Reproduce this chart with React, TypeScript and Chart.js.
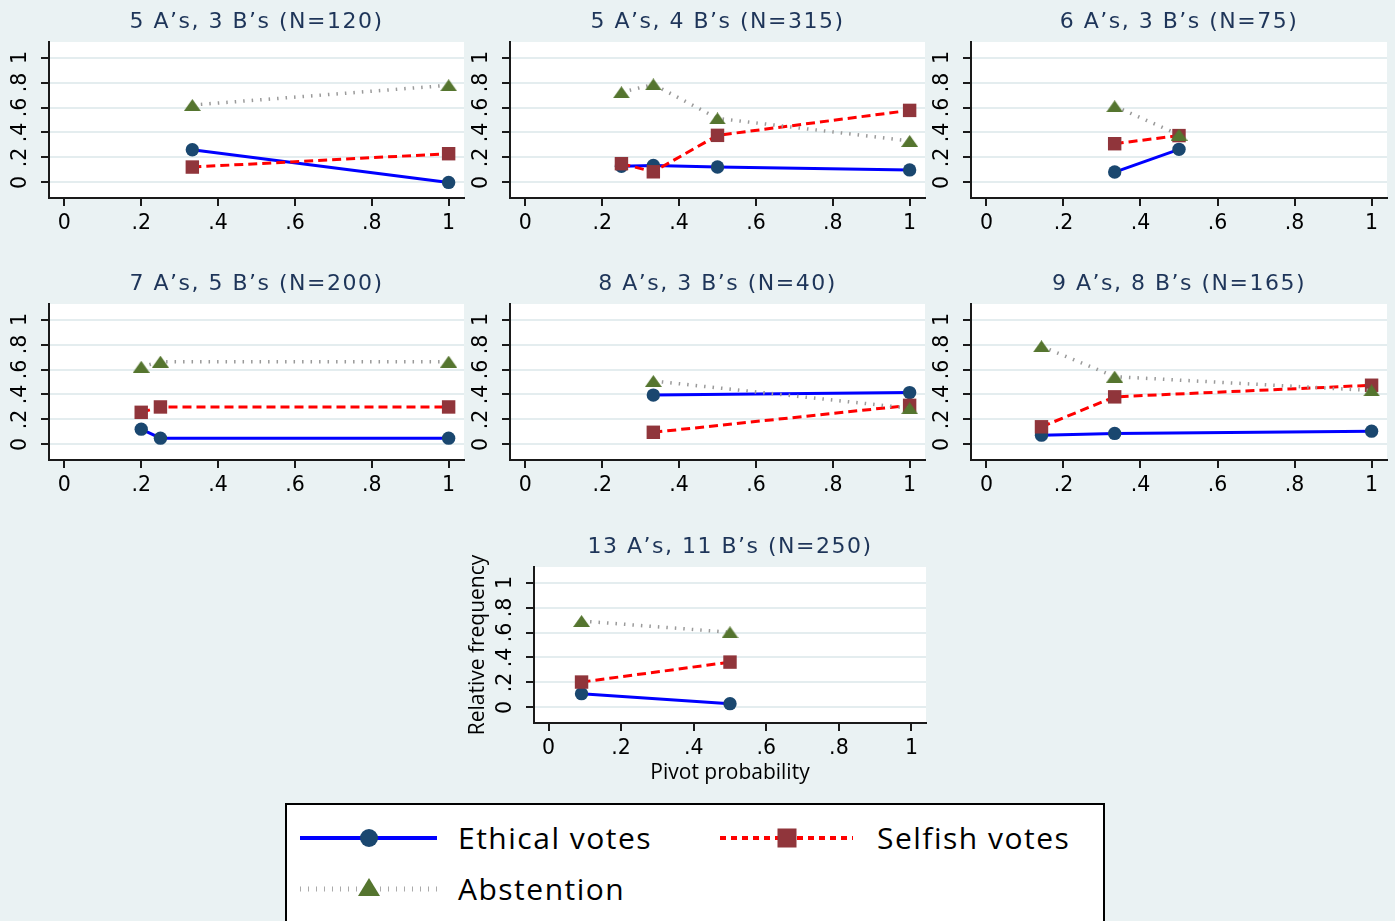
import React, { useEffect, useRef } from "react";
import { Chart, registerables } from "chart.js";

Chart.register(...registerables);

// ---------------- data ----------------
const panelTitles = [
  "5 A’s, 3 B’s (N=120)",
  "5 A’s, 4 B’s (N=315)",
  "6 A’s, 3 B’s (N=75)",
  "7 A’s, 5 B’s (N=200)",
  "8 A’s, 3 B’s (N=40)",
  "9 A’s, 8 B’s (N=165)",
  "13 A’s, 11 B’s (N=250)",
];

const pivotProbability = [
  [0.333, 1],
  [0.25, 0.333, 0.5, 1],
  [0.333, 0.5],
  [0.2, 0.25, 1],
  [0.333, 1],
  [0.143, 0.333, 1],
  [0.091, 0.5],
];

const ethicalVotes = [
  [0.262, 0.0],
  [0.13, 0.136, 0.123, 0.1],
  [0.083, 0.265],
  [0.122, 0.05, 0.05],
  [0.395, 0.415],
  [0.074, 0.088, 0.106],
  [0.11, 0.03],
];

const selfishVotes = [
  [0.123, 0.23],
  [0.15, 0.085, 0.377, 0.577],
  [0.31, 0.375],
  [0.257, 0.3, 0.3],
  [0.097, 0.313],
  [0.141, 0.381, 0.474],
  [0.203, 0.363],
];

const abstention = [
  [0.62, 0.778],
  [0.722, 0.785, 0.513, 0.332],
  [0.61, 0.382],
  [0.622, 0.663, 0.663],
  [0.508, 0.29],
  [0.786, 0.543, 0.432],
  [0.692, 0.602],
];

const tickValues = [0, 0.2, 0.4, 0.6, 0.8, 1];
const tickLabels = ["0", ".2", ".4", ".6", ".8", "1"];
const seriesLabels = ["Ethical votes", "Selfish votes", "Abstention"];
const xAxisTitle = "Pivot probability";
const yAxisTitle = "Relative frequency";

// ---------------- layout / style ----------------
const BG = "#EAF2F3";
const AXIS = "#1a1a1a";
const GRID = "#E4EDEF";
const TITLE_COLOR = "#1E3559";
const NAVY = "#1A476F";
const MAROON = "#90353B";
const GREEN = "#55752F";
const BLUE = "#0000FF";
const RED = "#FF0000";
const DOT = "#9a9a9a";

const TITLE_H = 42;
const PLOT_H = 156;
const RIGHT_PAD = 4;

const panelBoxes = [
  { left: 3, top: 0, plotW: 415, yW: 46, xH: 40, titles: false },
  { left: 464, top: 0, plotW: 415, yW: 46, xH: 40, titles: false },
  { left: 925, top: 0, plotW: 416, yW: 46, xH: 40, titles: false },
  { left: 3, top: 262, plotW: 415, yW: 46, xH: 40, titles: false },
  { left: 464, top: 262, plotW: 415, yW: 46, xH: 40, titles: false },
  { left: 925, top: 262, plotW: 416, yW: 46, xH: 40, titles: false },
  { left: 454, top: 525, plotW: 392, yW: 80, xH: 73, titles: true },
];

// wide triangle marker (Stata style)
function makeTriangleMarker(): HTMLCanvasElement {
  const c = document.createElement("canvas");
  c.width = 17;
  c.height = 12;
  const g = c.getContext("2d") as CanvasRenderingContext2D;
  g.fillStyle = GREEN;
  g.beginPath();
  g.moveTo(8.5, 0);
  g.lineTo(17, 12);
  g.lineTo(0, 12);
  g.closePath();
  g.fill();
  return c;
}

const plotBgPlugin = {
  id: "plotBg",
  beforeDraw(chart: any) {
    const { ctx, chartArea: a } = chart;
    ctx.save();
    ctx.fillStyle = "#ffffff";
    ctx.fillRect(a.left, a.top, a.right - a.left, a.bottom - a.top);
    ctx.restore();
  },
};

const panelTitlePlugin = {
  id: "panelTitle",
  afterDraw(chart: any, _args: any, opts: any) {
    const { ctx, chartArea: a } = chart;
    ctx.save();
    ctx.font = '22px "DejaVu Sans"';
    ctx.fillStyle = TITLE_COLOR;
    ctx.textAlign = "center";
    ctx.textBaseline = "alphabetic";
    (ctx as any).letterSpacing = "1.5px";
    ctx.fillText(opts.text, (a.left + a.right) / 2, a.top - 14);
    ctx.restore();
  },
};

const zeroPadding = (s: any) => {
  s.paddingLeft = 0;
  s.paddingRight = 0;
  s.paddingTop = 0;
  s.paddingBottom = 0;
};

function Panel({ index }: { index: number }) {
  const ref = useRef<HTMLCanvasElement>(null);
  const box = panelBoxes[index];
  const width = box.yW + box.plotW + RIGHT_PAD;
  const height = TITLE_H + PLOT_H + box.xH;

  useEffect(() => {
    const xs = pivotProbability[index];
    const mk = (vals: number[]) => xs.map((x, i) => ({ x, y: vals[i] }));
    const tickFont = { family: "DejaVu Sans", size: 20.5 };
    const axisTitleFont = { family: "Open Sans", size: 21, lineHeight: 1.2 };
    const triangle = makeTriangleMarker();

    const chart = new Chart(ref.current as HTMLCanvasElement, {
      type: "line",
      data: {
        datasets: [
          {
            label: seriesLabels[0],
            data: mk(ethicalVotes[index]),
            borderColor: BLUE,
            borderWidth: 3,
            pointStyle: "circle",
            pointRadius: 6.7,
            pointBackgroundColor: NAVY,
            pointBorderColor: NAVY,
            pointBorderWidth: 0,
            tension: 0,
            fill: false,
            clip: false,
            order: 3,
          },
          {
            label: seriesLabels[1],
            data: mk(selfishVotes[index]),
            borderColor: RED,
            borderWidth: 3,
            borderDash: [9, 5],
            pointStyle: "rect",
            pointRadius: 9.5,
            pointBackgroundColor: MAROON,
            pointBorderColor: MAROON,
            pointBorderWidth: 0,
            tension: 0,
            fill: false,
            clip: false,
            order: 2,
          },
          {
            label: seriesLabels[2],
            data: mk(abstention[index]),
            borderColor: DOT,
            borderWidth: 3.5,
            borderDash: [1.5, 7],
            pointStyle: triangle,
            pointRadius: 8,
            pointBackgroundColor: GREEN,
            pointBorderColor: GREEN,
            pointBorderWidth: 0,
            tension: 0,
            fill: false,
            clip: false,
            order: 1,
          },
        ],
      },
      options: {
        animation: false,
        responsive: false,
        maintainAspectRatio: false,
        devicePixelRatio: 1,
        events: [],
        layout: {
          autoPadding: false,
          padding: { top: TITLE_H, right: RIGHT_PAD, left: 0, bottom: 0 },
        },
        plugins: {
          legend: { display: false },
          tooltip: { enabled: false },
          title: { display: false },
          panelTitle: { text: panelTitles[index] },
        } as any,
        scales: {
          x: {
            type: "linear",
            min: -0.04,
            max: 1.04,
            afterBuildTicks: (s: any) => {
              s.ticks = tickValues.map((v) => ({ value: v }));
            },
            afterFit: (s: any) => {
              s.height = box.xH;
              zeroPadding(s);
            },
            ticks: {
              callback: (_v: any, i: number) => tickLabels[i],
              font: tickFont,
              color: "#000",
              padding: 5,
              maxRotation: 0,
              minRotation: 0,
              autoSkip: false,
            },
            grid: {
              display: true,
              drawOnChartArea: false,
              drawTicks: true,
              tickLength: 8,
              color: AXIS,
              lineWidth: 2,
            },
            border: { display: true, color: AXIS, width: 2 },
            title: {
              display: box.titles,
              text: xAxisTitle,
              font: axisTitleFont,
              color: "#000",
              padding: { top: 0, bottom: 10.4 },
            },
          },
          y: {
            type: "linear",
            min: -0.125,
            max: 1.125,
            afterBuildTicks: (s: any) => {
              s.ticks = tickValues.map((v) => ({ value: v }));
            },
            afterFit: (s: any) => {
              s.width = box.yW;
              zeroPadding(s);
            },
            ticks: {
              callback: (_v: any, i: number) => tickLabels[i],
              font: tickFont,
              color: "#000",
              padding: 11,
              minRotation: 90,
              maxRotation: 90,
              crossAlign: "center",
              autoSkip: false,
            },
            grid: {
              display: true,
              drawOnChartArea: true,
              drawTicks: true,
              tickLength: 8,
              color: GRID,
              tickColor: AXIS,
              lineWidth: 2,
            },
            border: { display: true, color: AXIS, width: 2 },
            title: {
              display: box.titles,
              text: yAxisTitle,
              font: axisTitleFont,
              color: "#000",
              padding: { top: 11.4, bottom: 0 },
            },
          },
        },
      } as any,
      plugins: [plotBgPlugin, panelTitlePlugin],
    });
    return () => chart.destroy();
  }, [index]);

  return (
    <canvas
      ref={ref}
      width={width}
      height={height}
      style={{ position: "absolute", left: box.left, top: box.top, width, height }}
    />
  );
}

const legendFont: React.CSSProperties = {
  position: "absolute",
  fontFamily: '"Open Sans", sans-serif',
  fontSize: 30,
  letterSpacing: "1.5px",
  color: "#000",
  height: 40,
  lineHeight: "40px",
  whiteSpace: "nowrap",
};

function Legend() {
  return (
    <>
      <div
        style={{
          position: "absolute",
          left: 285,
          top: 803,
          width: 820,
          height: 140,
          background: "#fff",
          border: "2px solid #000",
          boxSizing: "border-box",
        }}
      />
      <svg style={{ position: "absolute", left: 300, top: 828 }} width={137} height={20}>
        <line x1={0} y1={10} x2={137} y2={10} stroke={BLUE} strokeWidth={4} />
        <circle cx={69} cy={10} r={9} fill={NAVY} />
      </svg>
      <div style={{ ...legendFont, left: 458, top: 818 }}>{seriesLabels[0]}</div>
      <svg style={{ position: "absolute", left: 720, top: 828 }} width={133} height={20}>
        <line x1={0} y1={10} x2={133} y2={10} stroke={RED} strokeWidth={4} strokeDasharray="6 5" />
        <rect x={57.5} y={0.5} width={19} height={19} fill={MAROON} />
      </svg>
      <div style={{ ...legendFont, left: 877, top: 818 }}>{seriesLabels[1]}</div>
      <svg style={{ position: "absolute", left: 300, top: 877 }} width={137} height={22}>
        <line x1={0} y1={12} x2={137} y2={12} stroke="#aaaaaa" strokeWidth={5} strokeDasharray="1 7" />
        <polygon points="69,1 80,19 58,19" fill={GREEN} />
      </svg>
      <div style={{ ...legendFont, left: 458, top: 869 }}>{seriesLabels[2]}</div>
    </>
  );
}

export default function App() {
  return (
    <div
      style={{
        position: "absolute",
        left: 0,
        top: 0,
        width: 1395,
        height: 921,
        background: BG,
        overflow: "hidden",
      }}
    >
      {panelTitles.map((_t, i) => (
        <Panel key={i} index={i} />
      ))}
      <Legend />
    </div>
  );
}
